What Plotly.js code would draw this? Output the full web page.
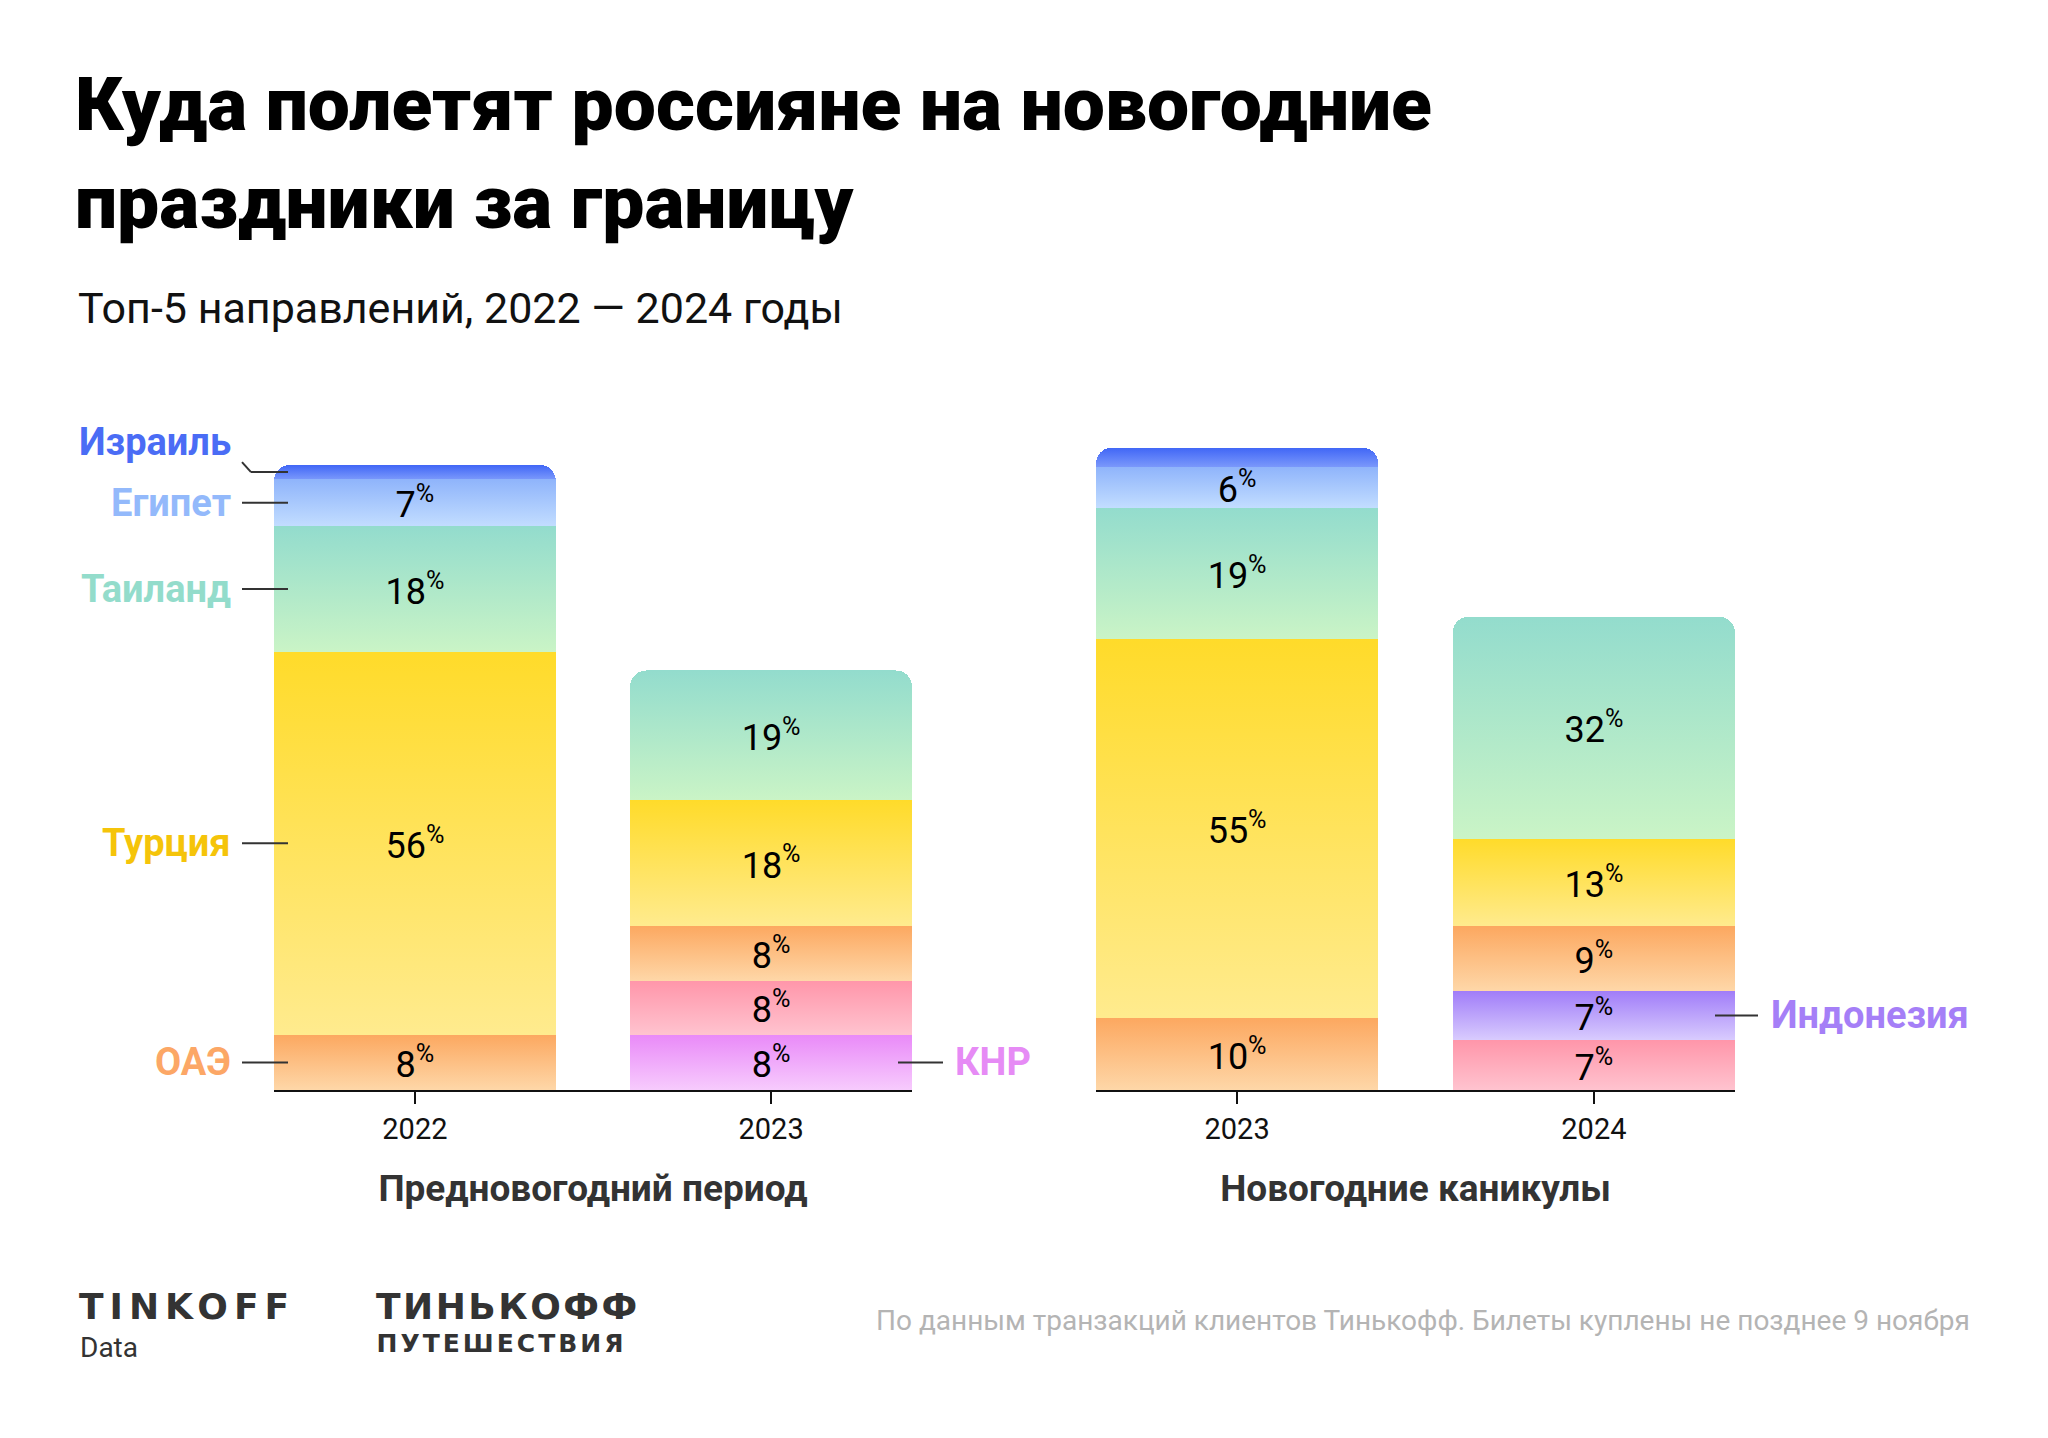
<!DOCTYPE html>
<html>
<head>
<meta charset="utf-8">
<script src="https://cdn.plot.ly/plotly-3.0.1.min.js"></script>
<style>
  html, body { margin: 0; padding: 0; background: #fff; }
  #chart { width: 2048px; height: 1438px; }
</style>
</head>
<body>
<div id="chart"></div>
<script>
// ---------- DATA ----------
const periodsPre = ['2022', '2023'];          // Предновогодний период
const periodsNY  = ['2023', '2024'];          // Новогодние каникулы

// Shares, %, stacked bottom -> top (labels are rounded)
const knrPre   = [null, 8.0];
const pinkPre  = [null, 7.8];
const indoPre  = [null, null];
const uaePre   = [8.0, 8.0];
const turPre   = [55.5, 18.2];
const thaiPre  = [18.2, 18.8];
const egyPre   = [6.8, null];
const isrPre   = [2.1, null];

const knrNY    = [null, null];
const pinkNY   = [null, 7.2];
const indoNY   = [null, 7.2];
const uaeNY    = [10.4, 9.3];
const turNY    = [54.9, 12.7];
const thaiNY   = [19.1, 32.2];
const egyNY    = [5.9, null];
const isrNY    = [2.8, null];

const seriesKeys  = ['knr', 'pink', 'indo', 'uae', 'tur', 'thai', 'egy', 'isr'];
const seriesNames = ['КНР', '', 'Индонезия', 'ОАЭ', 'Турция', 'Таиланд', 'Египет', 'Израиль'];
const preValues = [knrPre, pinkPre, indoPre, uaePre, turPre, thaiPre, egyPre, isrPre];
const nyValues  = [knrNY, pinkNY, indoNY, uaeNY, turNY, thaiNY, egyNY, isrNY];

const groupTitles = ['Предновогодний период', 'Новогодние каникулы'];

// ---------- STYLE ----------
const gradTop    = ['#e98af8', '#ff96aa', '#a07cf8', '#fca860', '#ffdb2a', '#93dccd', '#8fb4fb', '#4066f6'];
const gradBottom = ['#f7cbfd', '#ffc3cf', '#d9ccfe', '#fed7a8', '#ffeb8e', '#caf4c6', '#c2ddff', '#7a98fb'];
const labelColors = {
  isr: '#4a6cf5', egy: '#93b9fb', thai: '#93dccb', tur: '#f5c40a',
  uae: '#fca766', knr: '#e68bf5', indo: '#a57ff7'
};

const W = 2048, H = 1438;
const px = x => x / W;
const py = y => 1 - y / H;
const barWidth = 0.791;
const xRange = [-barWidth / 2, 1 + barWidth / 2];

function pctText(v, key) {
  if (v === null || key === 'isr') return '';
  return Math.round(v) + '<sup>%</sup>';
}

const traces = [];
[[preValues, periodsPre, 'x', 'y'], [nyValues, periodsNY, 'x2', 'y2']].forEach(([vals, cats, xa, ya]) => {
  vals.forEach((arr, i) => {
    traces.push({
      type: 'bar',
      name: seriesNames[i],
      meta: seriesKeys[i],
      x: cats,
      y: arr,
      xaxis: xa, yaxis: ya,
      width: barWidth,
      marker: { color: gradTop[i], line: { width: 0 } },
      text: arr.map(v => pctText(v, seriesKeys[i])),
      textposition: 'inside',
      insidetextanchor: 'middle',
      textangle: 0,
      constraintext: 'none',
      textfont: { family: 'Roboto, sans-serif', size: 36, color: '#000' },
      hoverinfo: 'skip',
      showlegend: false
    });
  });
});

// cumulative helpers (from data)
function segMid(valsList, keyIdx, catIdx) {
  let base = 0;
  for (let i = 0; i < keyIdx; i++) base += (valsList[i][catIdx] || 0);
  return base + (valsList[keyIdx][catIdx] || 0) / 2;
}
const K = k => seriesKeys.indexOf(k);

const annotations = [];
const shapes = [];
const lineStyle = { color: '#333', width: 2 };
const LABEL_SIZE = 38;

function sideLabel(text, color, yval, yref, xTextPx, anchor, x0px, x1px, dyText) {
  annotations.push({
    text: text, xref: 'paper', yref: yref, x: px(xTextPx), y: yval,
    xanchor: anchor, yanchor: 'middle', showarrow: false, yshift: dyText || 0,
    font: { family: 'Roboto, sans-serif', size: LABEL_SIZE, weight: 700, color: color }
  });
  shapes.push({ type: 'line', xref: 'paper', yref: yref, x0: px(x0px), x1: px(x1px), y0: yval, y1: yval, line: lineStyle });
}

// 2022 labels on left
['uae', 'tur', 'thai', 'egy'].forEach(k => {
  const label = seriesNames[K(k)];
  sideLabel(label, labelColors[k], segMid(preValues, K(k), 0), 'y', 233, 'right', 242, 288);
});
// Израиль – label above with bent connector
(function () {
  const m = segMid(preValues, K('isr'), 0);
  annotations.push({
    text: 'Израиль', xref: 'paper', yref: 'y', x: px(233), y: m, xanchor: 'right', yanchor: 'middle',
    yshift: 30, showarrow: false,
    font: { family: 'Roboto, sans-serif', size: LABEL_SIZE, weight: 700, color: labelColors.isr }
  });
  shapes.push({ type: 'line', xref: 'paper', yref: 'y', x0: px(242), x1: px(251), y0: m + 1.45, y1: m, line: lineStyle });
  shapes.push({ type: 'line', xref: 'paper', yref: 'y', x0: px(251), x1: px(288), y0: m, y1: m, line: lineStyle });
})();
// КНР on right of 2023 pre bar
sideLabel('КНР', labelColors.knr, segMid(preValues, K('knr'), 1), 'y', 953, 'left', 898, 943);
// Индонезия on right of 2024 bar
sideLabel('Индонезия', labelColors.indo, segMid(nyValues, K('indo'), 1), 'y2', 1769, 'left', 1715, 1758);

// Subtitle
annotations.push({
  text: 'Топ-5 направлений, 2022 — 2024 годы', xref: 'paper', yref: 'paper',
  x: px(76), y: py(308), xanchor: 'left', yanchor: 'middle', showarrow: false,
  font: { family: 'Roboto, sans-serif', size: 43, color: '#111' }
});
// Footer
annotations.push({
  text: 'TINKOFF', xref: 'paper', yref: 'paper', x: px(98), y: py(1306), xanchor: 'left', yanchor: 'middle',
  showarrow: false, font: { family: 'DejaVu Sans, sans-serif', size: 36, weight: 700, color: '#333' }
});
annotations.push({
  text: 'Data', xref: 'paper', yref: 'paper', x: px(78), y: py(1347), xanchor: 'left', yanchor: 'middle',
  showarrow: false, font: { family: 'Roboto, sans-serif', size: 28, color: '#333' }
});
annotations.push({
  text: 'ТИНЬКОФФ', xref: 'paper', yref: 'paper', x: px(384), y: py(1306), xanchor: 'left', yanchor: 'middle',
  showarrow: false, font: { family: 'DejaVu Sans, sans-serif', size: 36, weight: 700, color: '#333' }
});
annotations.push({
  text: 'ПУТЕШЕСТВИЯ', xref: 'paper', yref: 'paper', x: px(391), y: py(1343), xanchor: 'left', yanchor: 'middle',
  showarrow: false, font: { family: 'DejaVu Sans, sans-serif', size: 25, weight: 700, color: '#333' }
});
annotations.push({
  text: 'По данным транзакций клиентов Тинькофф. Билеты куплены не позднее 9 ноября', xref: 'paper', yref: 'paper',
  x: px(1972), y: py(1320), xanchor: 'right', yanchor: 'middle',
  showarrow: false, font: { family: 'Roboto, sans-serif', size: 28, color: '#b4b4b4' }
});

const xCommon = {
  type: 'category', range: xRange, fixedrange: true,
  showline: true, linecolor: '#111', linewidth: 2,
  ticks: 'outside', ticklen: 12, tickwidth: 2, tickcolor: '#111',
  tickfont: { family: 'Roboto, sans-serif', size: 29, color: '#111' },
  showgrid: false, zeroline: false
};
const yCommon = {
  range: [0, 100], domain: [py(1090), py(400)], visible: false, showgrid: false, zeroline: false, fixedrange: true
};
const groupTitleFont = { family: 'Roboto, sans-serif', size: 37, weight: 700, color: '#333' };

const layout = {
  width: W, height: H,
  margin: { l: 0, r: 0, t: 0, b: 0 },
  paper_bgcolor: '#fff', plot_bgcolor: 'rgba(0,0,0,0)',
  barmode: 'stack',
  barcornerradius: 16,
  bargap: 0,
  title: {
    text: 'Куда полетят россияне на новогодние<br>праздники за границу',
    x: px(75), xanchor: 'left', xref: 'container',
    y: 1 - 130 / H, yanchor: 'top', yref: 'container',
    font: { family: 'Roboto, sans-serif', size: 75, weight: 900, color: '#000' }
  },
  xaxis: Object.assign({}, xCommon, {
    domain: [px(274), px(912)], anchor: 'y',
    title: { text: groupTitles[0], standoff: 30, font: groupTitleFont }
  }),
  xaxis2: Object.assign({}, xCommon, {
    domain: [px(1096), px(1735)], anchor: 'y2',
    title: { text: groupTitles[1], standoff: 30, font: groupTitleFont }
  }),
  yaxis: Object.assign({}, yCommon, { anchor: 'x' }),
  yaxis2: Object.assign({}, yCommon, { anchor: 'x2' }),
  annotations: annotations,
  shapes: shapes
};

Plotly.newPlot('chart', traces, layout, { displayModeBar: false, staticPlot: true }).then(gd => {
  // vertical gradients for bar segments
  const svg = gd.querySelector('svg.main-svg');
  const NS = 'http://www.w3.org/2000/svg';
  let defs = svg.querySelector('defs');
  if (!defs) { defs = document.createElementNS(NS, 'defs'); svg.insertBefore(defs, svg.firstChild); }
  seriesKeys.forEach((k, i) => {
    const lg = document.createElementNS(NS, 'linearGradient');
    lg.setAttribute('id', 'grad_' + k);
    lg.setAttribute('x1', '0'); lg.setAttribute('y1', '0');
    lg.setAttribute('x2', '0'); lg.setAttribute('y2', '1');
    [[0, gradTop[i]], [1, gradBottom[i]]].forEach(([o, c]) => {
      const st = document.createElementNS(NS, 'stop');
      st.setAttribute('offset', o);
      st.setAttribute('stop-color', c);
      lg.appendChild(st);
    });
    defs.appendChild(lg);
  });
  gd.querySelectorAll('.trace.bars').forEach(g => {
    const d = g.__data__;
    const tr = d && d[0] && d[0].trace;
    if (!tr) return;
    g.querySelectorAll('.point path').forEach(p => { p.style.fill = 'url(#grad_' + tr.meta + ')'; });
  });
  // widen logo lettering
  const spacing = { 'TINKOFF': '6px', 'ТИНЬКОФФ': '2.5px', 'ПУТЕШЕСТВИЯ': '3px' };
  gd.querySelectorAll('.annotation-text').forEach(t => {
    const s = spacing[t.textContent];
    if (s) t.style.letterSpacing = s;
  });
});
</script>
</body>
</html>
